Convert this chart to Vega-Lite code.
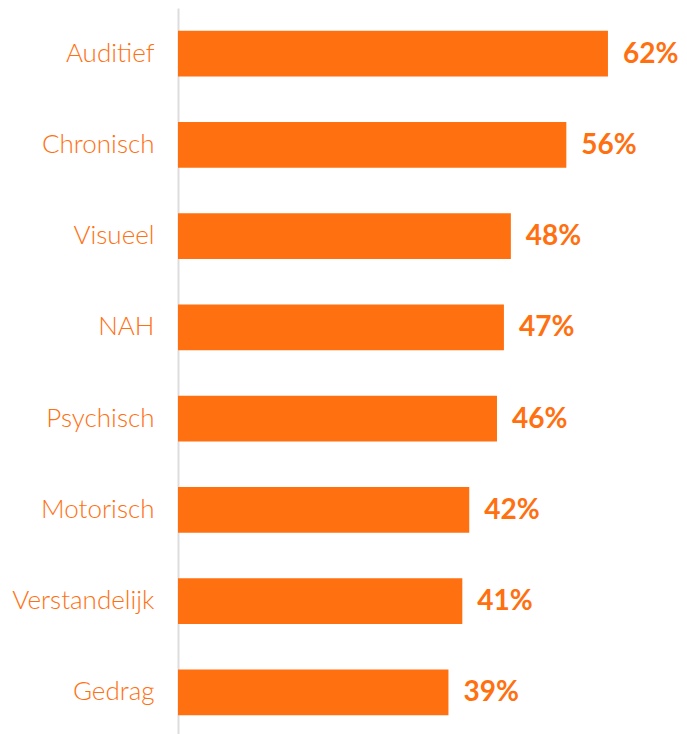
{
  "$schema": "https://vega.github.io/schema/vega-lite/v6.json",
  "autosize": "none",
  "padding": {"left": 178, "top": 8, "right": 0, "bottom": 0},
  "width": 509,
  "height": 730,
  "background": "white",
  "config": {"view": {"stroke": null}},
  "data": {"values": [
    {"cat": "Auditief", "pct": 62, "label": "62%"},
    {"cat": "Chronisch", "pct": 56, "label": "56%"},
    {"cat": "Visueel", "pct": 48, "label": "48%"},
    {"cat": "NAH", "pct": 47, "label": "47%"},
    {"cat": "Psychisch", "pct": 46, "label": "46%"},
    {"cat": "Motorisch", "pct": 42, "label": "42%"},
    {"cat": "Verstandelijk", "pct": 41, "label": "41%"},
    {"cat": "Gedrag", "pct": 39, "label": "39%"}
  ]},
  "encoding": {
    "y": {
      "field": "cat", "type": "nominal", "sort": null,
      "scale": {"paddingInner": 0.5, "paddingOuter": 0.25},
      "axis": {
        "title": null, "ticks": false, "domainColor": "#dddddd", "domainWidth": 2,
        "labelColor": "#FF7010", "labelFont": "Lato", "labelFontWeight": 300,
        "labelFontSize": 26, "labelPadding": 24
      }
    },
    "x": {
      "field": "pct", "type": "quantitative",
      "scale": {"domain": [0, 73.4]},
      "axis": null
    }
  },
  "layer": [
    {"mark": {"type": "bar", "color": "#FF7010"}},
    {
      "mark": {"type": "text", "align": "left", "baseline": "middle", "dx": 15, "dy": 1,
        "font": "Lato", "fontWeight": "bold", "fontSize": 28, "color": "#FF7010"},
      "encoding": {"text": {"field": "label", "type": "nominal"}}
    }
  ]
}
